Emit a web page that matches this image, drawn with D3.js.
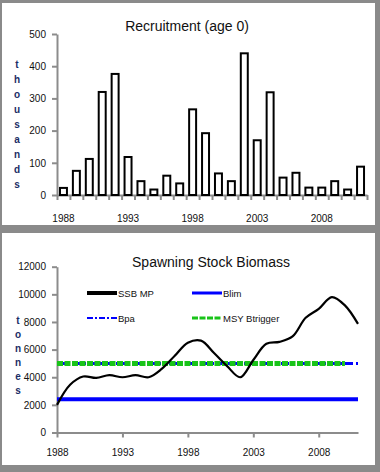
<!DOCTYPE html>
<html><head><meta charset="utf-8">
<script src="https://cdn.jsdelivr.net/npm/d3@7"></script>
<style>body{margin:0;background:#8a8a8a}svg{display:block}text{font-family:"Liberation Sans",Arial,sans-serif}</style>
</head><body>
<svg id="c" width="380" height="472"></svg>
<script>
const years = d3.range(1988, 2012);
const recruitment = [22,75,112,320,376,118,43,17,60,36,266,192,67,43,440,170,319,54,69,23,23,43,17,88];
const recTicks = [0,100,200,300,400,500];
const yearLabels = [1988,1993,1998,2003,2008];
const ssb = [2000,3450,4050,3950,4150,4000,4150,4000,4600,5550,6500,6650,5750,4800,4000,5250,6420,6560,6950,8300,8950,9800,9200,7860];
const blim = 2400;
const bpa = 5000;
const msyBtrigger = 5000;
const ssbTicks = [0,2000,4000,6000,8000,10000,12000];
const legendItems = ["SSB MP","Blim","Bpa","MSY Btrigger"];

const svg = d3.select("#c");
const axisCol = "#8c8c8c";
// panels
svg.append("rect").attr("x",0).attr("y",0).attr("width",380).attr("height",472).attr("fill","#8a8a8a");
svg.append("rect").attr("x",2).attr("y",3).attr("width",373).attr("height",222).attr("fill","#fff");
svg.append("rect").attr("x",2).attr("y",233).attr("width",373).attr("height",232).attr("fill","#fff");

function styleAxis(g){
  g.select(".domain").attr("stroke",axisCol).attr("stroke-width",2);
  g.selectAll(".tick line").attr("stroke",axisCol).attr("stroke-width",2);
  g.selectAll("text").attr("fill","#111").style("font-size","10px");
}

// ---- Top panel: Recruitment
const x1 = d3.scaleBand().domain(years).range([57,367]).paddingInner(0.46).paddingOuter(0.23);
const xb = d3.scaleBand().domain(years).range([57,367]);
const y1 = d3.scaleLinear().domain([0,500]).range([195,34]);

svg.append("text").attr("x",187).attr("y",31).attr("text-anchor","middle")
  .style("font-size","14px").attr("fill","#111").text("Recruitment (age 0)");

const gy1 = svg.append("g").attr("transform","translate(57,0)")
  .call(d3.axisLeft(y1).tickValues(recTicks).tickSize(5).tickSizeOuter(0).tickPadding(6));
styleAxis(gy1);

const gx1 = svg.append("g").attr("transform","translate(0,195)")
  .call(d3.axisBottom(d3.scaleLinear().domain([0,24]).range([57,367])).tickValues(d3.range(0,25)).tickSize(5).tickSizeOuter(0).tickFormat(""));
styleAxis(gx1);
svg.append("g").selectAll("text").data(yearLabels).join("text")
  .attr("x",d=>xb(d)+xb.bandwidth()/2).attr("y",222).attr("text-anchor","middle")
  .style("font-size","10px").attr("fill","#111").text(d=>d);

svg.append("g").selectAll("rect").data(years).join("rect")
  .attr("x",d=>x1(d)).attr("width",x1.bandwidth())
  .attr("y",(d,i)=>y1(recruitment[i])).attr("height",(d,i)=>195-y1(recruitment[i]))
  .attr("fill","#fff").attr("stroke","#000").attr("stroke-width",2);

const recTitle = "thousands".split("");
svg.append("g").selectAll("text").data(recTitle).join("text")
  .attr("x",17).attr("y",(d,i)=>68+i*15).attr("text-anchor","middle")
  .style("font-size","10px").style("font-weight","bold").attr("fill","#1b2d66").text(d=>d);

// ---- Bottom panel: SSB
const x2 = d3.scaleLinear().domain([1988,2011]).range([57,358]);
const y2 = d3.scaleLinear().domain([0,12000]).range([432.5,266.7]);

svg.append("text").attr("x",211).attr("y",267).attr("text-anchor","middle")
  .style("font-size","14px").attr("fill","#111").text("Spawning Stock Biomass");

const gy2 = svg.append("g").attr("transform","translate(57,0)")
  .call(d3.axisLeft(y2).tickValues(ssbTicks).tickSize(5).tickSizeOuter(0).tickPadding(6).tickFormat(d3.format("d")));
styleAxis(gy2);
const gx2 = svg.append("g").attr("transform","translate(0,432.5)")
  .call(d3.axisBottom(x2).tickValues(yearLabels).tickSize(5).tickSizeOuter(0).tickPadding(11).tickFormat(d3.format("d")));
styleAxis(gx2);

const ssbTitle = "tonnes".split("");
svg.append("g").selectAll("text").data(ssbTitle).join("text")
  .attr("x",18).attr("y",(d,i)=>324+i*14).attr("text-anchor","middle")
  .style("font-size","10px").style("font-weight","bold").attr("fill","#1b2d66").text(d=>d);

// reference lines
svg.append("line").attr("x1",x2(1988)).attr("x2",x2(2011)).attr("y1",y2(blim)).attr("y2",y2(blim))
  .attr("stroke","#0000ff").attr("stroke-width",4);
svg.append("line").attr("x1",x2(1988)).attr("x2",x2(2011)).attr("y1",y2(bpa)).attr("y2",y2(bpa))
  .attr("stroke","#0000ff").attr("stroke-width",3).attr("stroke-dasharray","8,3,2,3");
svg.append("line").attr("x1",x2(1988)).attr("x2",x2(2010)).attr("y1",y2(msyBtrigger)).attr("y2",y2(msyBtrigger))
  .attr("stroke","#19c419").attr("stroke-width",5).attr("stroke-dasharray","6,1.5");

const line = d3.line().x((d,i)=>x2(years[i])).y(d=>y2(d)).curve(d3.curveCatmullRom.alpha(0.5));
svg.append("path").datum(ssb).attr("d",line).attr("fill","none").attr("stroke","#000").attr("stroke-width",2.2);

// legend
const leg = [
  {x:87,y:293,col:"#000",w:4,dash:null},
  {x:192,y:293,col:"#0000ff",w:3,dash:null},
  {x:87,y:318,col:"#0000ff",w:2,dash:"6,2,2,2"},
  {x:192,y:318,col:"#19c419",w:3,dash:"6,1.5"}
];
const lg = svg.append("g").selectAll("g").data(legendItems).join("g");
lg.append("line").attr("x1",(d,i)=>leg[i].x).attr("x2",(d,i)=>leg[i].x+30)
  .attr("y1",(d,i)=>leg[i].y).attr("y2",(d,i)=>leg[i].y)
  .attr("stroke",(d,i)=>leg[i].col).attr("stroke-width",(d,i)=>leg[i].w)
  .attr("stroke-dasharray",(d,i)=>leg[i].dash);
lg.append("text").attr("x",(d,i)=>leg[i].x+31).attr("y",(d,i)=>leg[i].y+3.5)
  .style("font-size","9.5px").attr("fill","#111").text(d=>d);
</script>
</body></html>
